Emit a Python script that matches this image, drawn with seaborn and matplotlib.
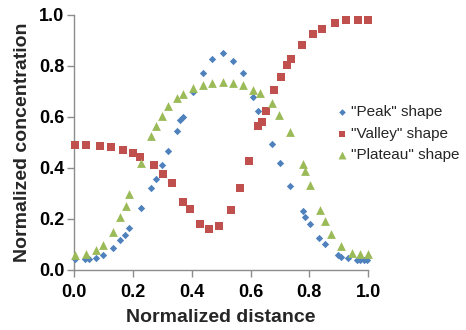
import matplotlib
matplotlib.use("Agg")
import matplotlib.pyplot as plt
import seaborn as sns
import pandas as pd

peak_x = [0.002, 0.036, 0.051, 0.074, 0.099, 0.131, 0.156, 0.173, 0.187, 0.226,
          0.260, 0.278, 0.300, 0.320, 0.350, 0.360, 0.369, 0.405, 0.440, 0.470,
          0.508, 0.542, 0.574, 0.608, 0.627, 0.673, 0.701, 0.733, 0.778, 0.786,
          0.801, 0.834, 0.854, 0.897, 0.908, 0.931, 0.962, 0.973, 0.985, 0.997]
peak_y = [0.042, 0.042, 0.044, 0.048, 0.059, 0.085, 0.118, 0.137, 0.163, 0.242,
          0.320, 0.356, 0.412, 0.467, 0.543, 0.588, 0.599, 0.699, 0.774, 0.826,
          0.850, 0.821, 0.771, 0.677, 0.625, 0.493, 0.421, 0.329, 0.231, 0.209,
          0.179, 0.127, 0.101, 0.059, 0.052, 0.046, 0.039, 0.039, 0.039, 0.039]

valley_x = [0.002, 0.040, 0.088, 0.125, 0.167, 0.201, 0.224, 0.272, 0.301, 0.332,
            0.371, 0.394, 0.428, 0.460, 0.494, 0.533, 0.565, 0.596, 0.627, 0.638,
            0.653, 0.680, 0.703, 0.724, 0.738, 0.776, 0.814, 0.844, 0.888, 0.926,
            0.964, 1.000]
valley_y = [0.490, 0.490, 0.486, 0.481, 0.471, 0.458, 0.444, 0.412, 0.375, 0.340,
            0.268, 0.238, 0.180, 0.161, 0.171, 0.235, 0.320, 0.429, 0.565, 0.578,
            0.624, 0.706, 0.756, 0.804, 0.826, 0.882, 0.924, 0.944, 0.967, 0.978,
            0.980, 0.980]

plateau_x = [0.002, 0.040, 0.074, 0.099, 0.131, 0.156, 0.175, 0.187, 0.226, 0.260,
             0.278, 0.298, 0.320, 0.349, 0.369, 0.405, 0.440, 0.470, 0.508, 0.542,
             0.574, 0.608, 0.631, 0.673, 0.698, 0.733, 0.778, 0.786, 0.801, 0.835,
             0.854, 0.875, 0.908, 0.945, 0.971, 1.000]
plateau_y = [0.059, 0.063, 0.078, 0.098, 0.150, 0.207, 0.251, 0.297, 0.421, 0.525,
             0.565, 0.604, 0.643, 0.673, 0.690, 0.712, 0.725, 0.732, 0.735, 0.732,
             0.725, 0.706, 0.695, 0.654, 0.608, 0.540, 0.414, 0.386, 0.333, 0.235,
             0.193, 0.140, 0.094, 0.068, 0.063, 0.063]

series_names = ['"Peak" shape', '"Valley" shape', '"Plateau" shape']
x_ticks = [0.0, 0.2, 0.4, 0.6, 0.8, 1.0]
y_ticks = [0.0, 0.2, 0.4, 0.6, 0.8, 1.0]

df = pd.concat([
    pd.DataFrame({"x": peak_x, "y": peak_y, "series": series_names[0]}),
    pd.DataFrame({"x": valley_x, "y": valley_y, "series": series_names[1]}),
    pd.DataFrame({"x": plateau_x, "y": plateau_y, "series": series_names[2]}),
])

sns.set_style("white")
plt.rcParams["font.family"] = ["Liberation Sans", "DejaVu Sans"]

fig = plt.figure(figsize=(4.66, 3.30), dpi=100)
ax = fig.add_axes([0.159, 0.182, 0.631, 0.773])

colors = {series_names[0]: "#4F81BD", series_names[1]: "#C0504D", series_names[2]: "#9BBB59"}
markers = {series_names[0]: "D", series_names[1]: "s", series_names[2]: "^"}
sizes = {series_names[0]: 14, series_names[1]: 30, series_names[2]: 40}

for name in series_names:
    sub = df[df["series"] == name]
    sns.scatterplot(data=sub, x="x", y="y", color=colors[name], marker=markers[name],
                    s=sizes[name], linewidth=0, ax=ax, label=name, clip_on=False, zorder=3)

ax.set_xlim(0, 1.0)
ax.set_ylim(0, 1.0)
ax.set_xticks(x_ticks)
ax.set_yticks(y_ticks)
ax.set_xticklabels([f"{t:.1f}" for t in x_ticks])
ax.set_yticklabels([f"{t:.1f}" for t in y_ticks])

for side in ["top", "right"]:
    ax.spines[side].set_visible(False)
for side in ["left", "bottom"]:
    ax.spines[side].set_color("#8C8C8C")
    ax.spines[side].set_linewidth(1.0)

ax.tick_params(axis="both", direction="out", length=5, width=1, color="#8C8C8C",
               labelsize=13, bottom=True, left=True)
ax.tick_params(axis="x", pad=5)
ax.tick_params(axis="y", pad=2)
for lbl in ax.get_xticklabels() + ax.get_yticklabels():
    lbl.set_fontweight("bold")
    lbl.set_color("black")

ax.set_xlabel("Normalized distance", fontsize=14, fontweight="bold", labelpad=6)
ax.set_ylabel("Normalized concentration", fontsize=14, fontweight="bold", labelpad=6)

leg = ax.legend(loc="upper left", bbox_to_anchor=(0.87, 0.67), frameon=False,
                fontsize=11, handletextpad=0.15, handlelength=0.8,
                labelspacing=0.5, borderaxespad=0, markerscale=0.9)
for t in leg.get_texts():
    t.set_color("#262626")

fig.savefig("out.png", dpi=100)
